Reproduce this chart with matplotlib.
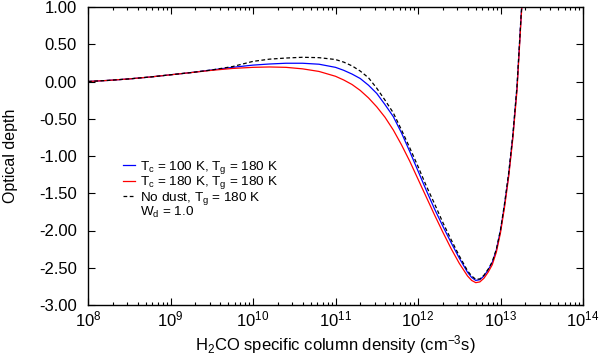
import numpy as np
import matplotlib
matplotlib.use("Agg")
import matplotlib.pyplot as plt
from matplotlib.ticker import LogLocator, MultipleLocator, FormatStrFormatter, NullFormatter

plt.rcParams['font.family'] = ['Liberation Sans', 'DejaVu Sans']
plt.rcParams['mathtext.fontset'] = 'custom'
plt.rcParams['mathtext.rm'] = 'Liberation Sans'
plt.rcParams['mathtext.it'] = 'Liberation Sans:italic'
plt.rcParams['mathtext.default'] = 'regular'
plt.rcParams['axes.unicode_minus'] = False

# log10 of H2CO specific column density (cm^-3 s)
logn = [8.0, 8.25, 8.5, 8.75, 9.0, 9.25, 9.5, 9.75, 10.0, 10.2, 10.4, 10.6, 10.8,
        11.0, 11.1, 11.2, 11.3, 11.4, 11.5, 11.6, 11.7, 11.8, 11.9, 12.0, 12.1,
        12.2, 12.3, 12.4, 12.5, 12.6, 12.65, 12.7, 12.75, 12.8, 12.85, 12.9,
        12.95, 13.0, 13.05, 13.1, 13.15, 13.2, 13.25, 13.3]

# Tc = 100 K, Tg = 180 K
tau_blue = [0.0, 0.015, 0.035, 0.06, 0.09, 0.12, 0.155, 0.19, 0.22, 0.235, 0.245, 0.245, 0.232,
            0.19, 0.15, 0.10, 0.04, -0.05, -0.16, -0.31, -0.47, -0.69, -0.94, -1.20, -1.46,
            -1.71, -1.94, -2.16, -2.37, -2.56, -2.63, -2.67, -2.66, -2.61, -2.53, -2.43,
            -2.26, -2.00, -1.65, -1.24, -0.73, -0.08, 0.88, 1.70]
# Tc = 180 K, Tg = 180 K
tau_red = [0.0, 0.015, 0.035, 0.06, 0.09, 0.12, 0.15, 0.175, 0.19, 0.195, 0.19, 0.17, 0.135,
           0.07, 0.02, -0.04, -0.12, -0.22, -0.34, -0.48, -0.65, -0.85, -1.07, -1.31, -1.55,
           -1.79, -2.02, -2.24, -2.44, -2.61, -2.67, -2.70, -2.69, -2.64, -2.56, -2.46,
           -2.29, -2.03, -1.68, -1.27, -0.76, -0.12, 0.85, 1.70]
# no dust, Tg = 180 K
tau_nodust = [0.0, 0.015, 0.035, 0.06, 0.09, 0.12, 0.155, 0.20, 0.27, 0.30, 0.315, 0.325, 0.32,
              0.295, 0.26, 0.21, 0.14, 0.05, -0.09, -0.25, -0.42, -0.65, -0.89, -1.14, -1.40,
              -1.64, -1.89, -2.12, -2.34, -2.54, -2.61, -2.655, -2.65, -2.60, -2.52, -2.42,
              -2.25, -1.99, -1.63, -1.22, -0.71, -0.06, 0.90, 1.70]

labels = [r"T$_c$ = 100 K, T$_g$ = 180 K",
          r"T$_c$ = 180 K, T$_g$ = 180 K",
          r"No dust, T$_g$ = 180 K",
          r"W$_d$ = 1.0"]

N = 10.0 ** np.array(logn)

fig = plt.figure(figsize=(6.0, 3.59), dpi=100)
ax = fig.add_axes([88/600, 1-305/359, 495/600, 298/359])

lw = 0.9
l1, = ax.plot(N, tau_blue, color='#0000ff', lw=lw)
l2, = ax.plot(N, tau_red, color='#ff0000', lw=lw)
l3, = ax.plot(N, tau_nodust, color='black', lw=lw, ls=(0, (3, 2)))
l4, = ax.plot([], [], color='none')

ax.set_xscale('log')
ax.set_xlim(1e8, 1e14)
ax.set_ylim(-3.0, 1.0)
ax.xaxis.set_major_locator(LogLocator(base=10, numticks=10))
ax.xaxis.set_minor_locator(LogLocator(base=10, subs=np.arange(2, 10), numticks=20))
ax.xaxis.set_minor_formatter(NullFormatter())
ax.yaxis.set_major_locator(MultipleLocator(0.5))
ax.yaxis.set_major_formatter(FormatStrFormatter('%.2f'))

ax.tick_params(which='both', direction='in', top=True, right=True, labelsize=12)
ax.tick_params(which='major', length=5, width=0.8)
ax.tick_params(which='minor', length=2.5, width=0.8)
ax.tick_params(axis='y', pad=8)
ax.tick_params(axis='x', pad=3)
for s in ax.spines.values():
    s.set_linewidth(1.0)

ax.set_xlabel(r"H$_2$CO specific column density (cm$^{-3}$s)", fontsize=12, labelpad=3)
ax.set_ylabel("Optical depth", fontsize=11.5, labelpad=15)

ax.legend([l1, l2, l3, l4], labels, loc='upper left', bbox_to_anchor=(0.07, 0.49),
          frameon=False, fontsize=9.7, handlelength=0.88, handletextpad=0.4,
          labelspacing=-0.12, borderpad=0, borderaxespad=0)

fig.savefig('out.png', dpi=100)
